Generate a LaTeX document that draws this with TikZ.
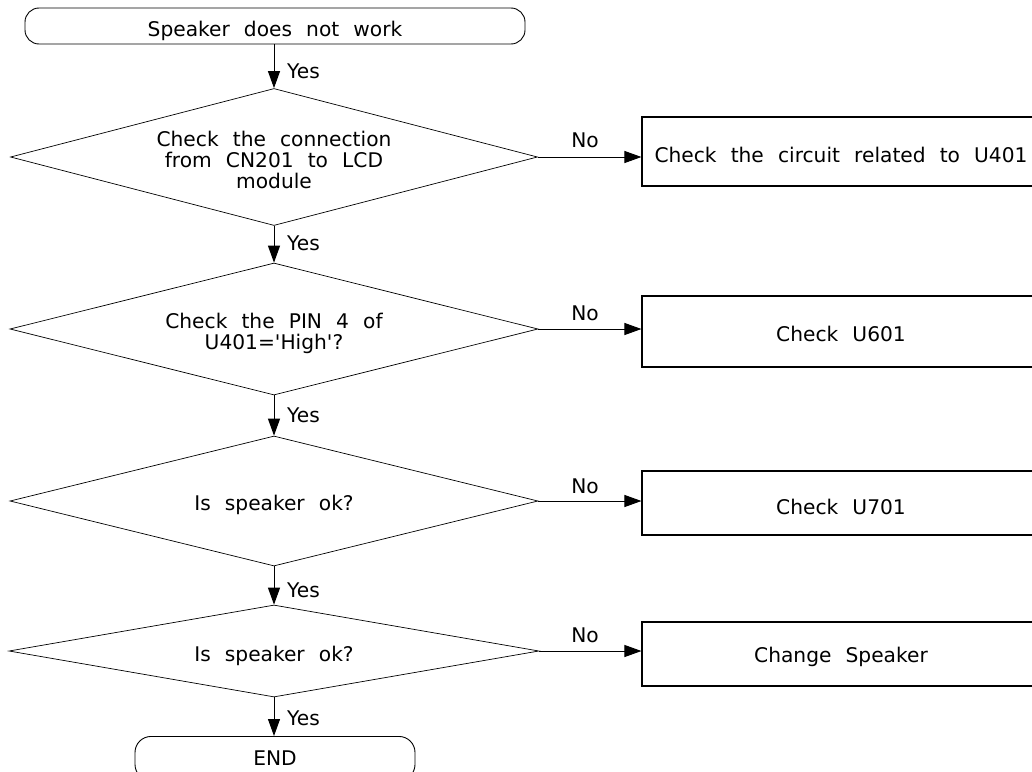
\documentclass[tikz,border=0pt]{standalone}
\usepackage{fontspec}
\setmainfont{DejaVu Sans}[WordSpace=2.2]
\usetikzlibrary{shapes.geometric,arrows.meta}
\begin{document}
\begin{tikzpicture}[x=1pt,y=-1pt,
  every node/.style={font=\fontsize{20.2pt}{21pt}\selectfont, inner sep=0pt},
  term/.style={draw, line width=0.9pt, rounded corners=14pt, minimum height=36pt},
  decision/.style={draw, diamond, line width=0.7pt, aspect=4},
  dtext/.style={align=center},
  action/.style={draw, rectangle, line width=1.1pt, minimum width=398pt},
  arr/.style={line width=1pt, -{Triangle[length=17pt,width=12pt]}},
  lbl/.style={anchor=west},
  nolbl/.style={anchor=center}]
\useasboundingbox (0,0) rectangle (1032,771);
\clip (0,0) rectangle (1032,771);

\node[term, minimum width=500pt] (start) at (275,26) {\raisebox{-5pt}[\height][\depth]{Speaker does not work}};

\node[decision, minimum width=527pt, minimum height=137pt] (d1) at (274,157) {};
\node[decision, minimum width=528pt, minimum height=132pt] (d2) at (274,329) {};
\node[decision, minimum width=528pt, minimum height=130pt] (d3) at (274,501) {};
\node[decision, minimum width=530pt, minimum height=92pt] (d4) at (274,651) {};

\node[dtext] (t1) at ([yshift=-3pt]d1.center) {Check the connection\\from CN201 to LCD\\module};
\node[dtext] (t2) at ([yshift=-4pt]d2.center) {Check the PIN 4 of\\U401=\textquotesingle High\textquotesingle?};
\node[dtext] (t3) at ([yshift=-4pt]d3.center) {Is speaker ok?};
\node[dtext] (t4) at ([yshift=-5pt]d4.center) {Is speaker ok?};

\node[action, minimum height=69pt] (b1) at (841,151.5) {\raisebox{-3pt}[\height][\depth]{Check the circuit related to U401}};
\node[action, minimum height=71pt] (b2) at (841,331.5) {\raisebox{-2.5pt}[\height][\depth]{Check U601}};
\node[action, minimum height=64pt] (b3) at (841,503) {\raisebox{-4pt}[\height][\depth]{Check U701}};
\node[action, minimum height=64pt] (b4) at (841,654) {\raisebox{-3pt}[\height][\depth]{Change Speaker}};

\node[term, rounded corners=16pt, minimum width=280pt, minimum height=44pt, anchor=north] (end) at (275,736) {END};

\draw[arr] (start.south -| d1.north) -- (d1.north);
\draw[arr] (d1.south) -- (d2.north);
\draw[arr] (d2.south) -- (d3.north);
\draw[arr] (d3.south) -- (d4.north);
\draw[arr] (d4.south) -- (d4.south |- end.north);

\draw[arr] (d1.east) -- (d1.east -| b1.west);
\draw[arr] (d2.east) -- (d2.east -| b2.west);
\draw[arr] (d3.east) -- (d3.east -| b3.west);
\draw[arr] (d4.east) -- (d4.east -| b4.west);

\node[lbl] (y1) at (287,71) {Yes};
\node[lbl] (y2) at (287,243) {Yes};
\node[lbl] (y3) at (287,415) {Yes};
\node[lbl] (y4) at (287,590) {Yes};
\node[lbl] (y5) at (287,718) {Yes};

\node[nolbl] (n1) at (585,140) {No};
\node[nolbl] (n2) at (585,313) {No};
\node[nolbl] (n3) at (585,486) {No};
\node[nolbl] (n4) at (585,635) {No};
\end{tikzpicture}
\end{document}
